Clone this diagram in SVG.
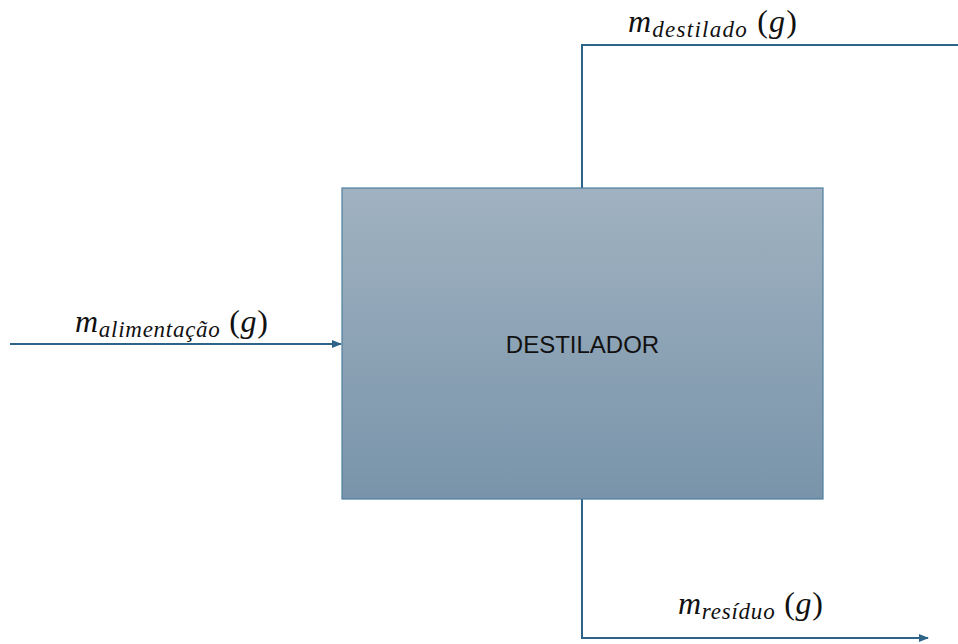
<svg xmlns="http://www.w3.org/2000/svg" width="958" height="644" viewBox="0 0 958 644">
<style>
.flow{fill:none;stroke:#2d6487;stroke-width:2}
.m{font-family:"Liberation Serif",serif;font-style:italic;font-size:32px;fill:#111}
.sub{font-size:23px}
.par{font-style:normal}
.lbl{font-family:"Liberation Sans",Arial,sans-serif;font-size:24px;fill:#111}
</style>
<defs>
<linearGradient id="g" x1="0" y1="0" x2="0" y2="1">
<stop offset="0" stop-color="#a0b2c1"/>
<stop offset="1" stop-color="#7994aa"/>
</linearGradient>
<marker id="arr" markerWidth="10" markerHeight="10" refX="9" refY="5" orient="auto" markerUnits="userSpaceOnUse">
<path d="M0,1 L10,5 L0,9 z" fill="#2d6487"/>
</marker>
</defs>
<g id="connectors">
<path class="flow" d="M10,344 H341" marker-end="url(#arr)"/>
<path class="flow" d="M582,188 V45 H958"/>
<path class="flow" d="M582,499 V638 H928" marker-end="url(#arr)"/>
</g>
<g id="destilador">
<rect x="342" y="188" width="481" height="311" fill="url(#g)" stroke="#4f7f9e" stroke-width="1.2"/>
<text class="lbl" x="582.5" y="353" text-anchor="middle">DESTILADOR</text>
</g>
<g id="label-alimentacao">
<text class="m" x="75" y="332" textLength="193" lengthAdjust="spacing">m<tspan class="sub" dy="5">alimentação</tspan><tspan class="par" dy="-5"> (</tspan>g<tspan class="par">)</tspan></text>
</g>
<g id="label-destilado">
<text class="m" x="628" y="32" textLength="169" lengthAdjust="spacing">m<tspan class="sub" dy="5">destilado</tspan><tspan class="par" dy="-5"> (</tspan>g<tspan class="par">)</tspan></text>
</g>
<g id="label-residuo">
<text class="m" x="678" y="614" textLength="145" lengthAdjust="spacing">m<tspan class="sub" dy="5">resíduo</tspan><tspan class="par" dy="-5"> (</tspan>g<tspan class="par">)</tspan></text>
</g>
</svg>
